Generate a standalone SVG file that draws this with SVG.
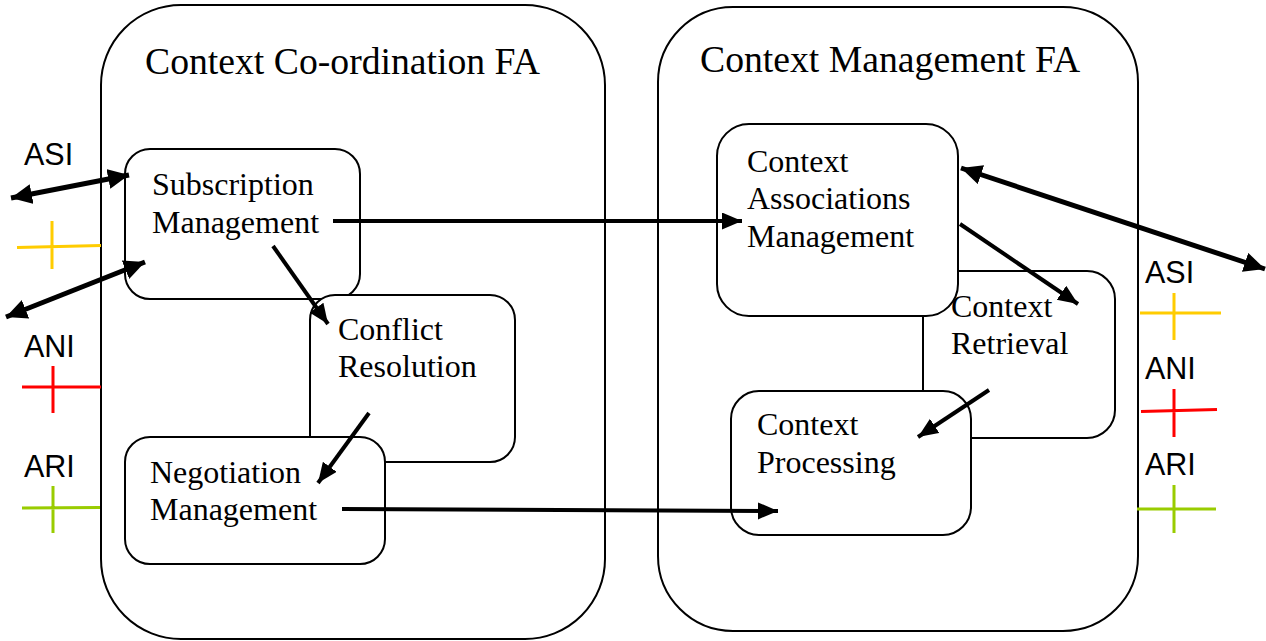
<svg xmlns="http://www.w3.org/2000/svg" width="1266" height="641" viewBox="0 0 1266 641">
  <style>
    .fa { fill: #fff; stroke: #000; stroke-width: 2; }
    .box { fill: #fff; stroke: #000; stroke-width: 2; }
    .title { font-family: "Liberation Serif", "Times New Roman", serif; font-size: 37.7px; fill: #000; }
    .lbl { font-family: "Liberation Serif", "Times New Roman", serif; font-size: 32px; fill: #000; }
    .ifl { font-family: "Liberation Sans", Arial, sans-serif; font-size: 30.5px; fill: #000; }
    .flow { stroke: #000; stroke-width: 4; fill: none; marker-end: url(#head); }
    .dual { stroke: #000; stroke-width: 5; fill: none; marker-start: url(#head2); marker-end: url(#head2); }
    .asi { stroke: #ffcc00; stroke-width: 3; fill: none; }
    .ani { stroke: #ff0000; stroke-width: 3; fill: none; }
    .ari { stroke: #99cc00; stroke-width: 3; fill: none; }
  </style>
  <defs>
    <marker id="head" markerUnits="userSpaceOnUse" markerWidth="22" markerHeight="20" refX="20" refY="8.5" orient="auto">
      <path d="M0,0 L20,8.5 L0,17 z" fill="#000"/>
    </marker>
    <marker id="head2" markerUnits="userSpaceOnUse" markerWidth="24" markerHeight="22" refX="21" refY="10" orient="auto-start-reverse">
      <path d="M0,0 L21,10 L0,20 z" fill="#000"/>
    </marker>
  </defs>

  <!-- functional areas -->
  <g id="fa-coordination">
    <rect class="fa" x="101" y="5" width="504" height="634" rx="80" ry="80"/>
    <text class="title" x="145" y="74">Context Co-ordination FA</text>
  </g>
  <g id="fa-management">
    <rect class="fa" x="658" y="7" width="480" height="624" rx="75" ry="75"/>
    <text class="title" x="700" y="72">Context Management FA</text>
  </g>

  <!-- co-ordination blocks -->
  <g id="subscription-management">
    <rect class="box" x="125" y="149" width="235" height="150" rx="25" ry="25"/>
    <text class="lbl" x="152" y="195">Subscription</text>
    <text class="lbl" x="152" y="233">Management</text>
  </g>
  <g id="conflict-resolution">
    <rect class="box" x="310" y="295" width="205" height="167" rx="25" ry="25"/>
    <text class="lbl" x="338" y="340">Conflict</text>
    <text class="lbl" x="338" y="377">Resolution</text>
  </g>
  <g id="negotiation-management">
    <rect class="box" x="125" y="437" width="260" height="127" rx="25" ry="25"/>
    <text class="lbl" x="150" y="483">Negotiation</text>
    <text class="lbl" x="150" y="520">Management</text>
  </g>

  <!-- management blocks -->
  <g id="context-retrieval">
    <rect class="box" x="923" y="271" width="192" height="167" rx="28" ry="28"/>
    <text class="lbl" x="951" y="317">Context</text>
    <text class="lbl" x="951" y="354">Retrieval</text>
  </g>
  <g id="context-associations-management">
    <rect class="box" x="717" y="124" width="241" height="192" rx="32" ry="32"/>
    <text class="lbl" x="747" y="172">Context</text>
    <text class="lbl" x="747" y="209">Associations</text>
    <text class="lbl" x="747" y="247">Management</text>
  </g>
  <g id="context-processing">
    <rect class="box" x="731" y="391" width="240" height="144" rx="28" ry="28"/>
    <text class="lbl" x="757" y="435">Context</text>
    <text class="lbl" x="757" y="473">Processing</text>
  </g>

  <!-- interface reference points -->
  <g id="if-left-asi">
    <text class="ifl" x="24" y="165">ASI</text>
    <path class="asi" d="M17,247.5 L101,245.5 M52,221 L52,269"/>
  </g>
  <g id="if-left-ani">
    <text class="ifl" x="24" y="357">ANI</text>
    <path class="ani" d="M22,387 L101,387 M53,366 L53,413"/>
  </g>
  <g id="if-left-ari">
    <text class="ifl" x="24" y="477">ARI</text>
    <path class="ari" d="M22,508 L100,507.5 M53,486 L53,533"/>
  </g>
  <g id="if-right-asi">
    <text class="ifl" x="1145" y="283">ASI</text>
    <path class="asi" d="M1140,313 L1221,313 M1174,293 L1174,340"/>
  </g>
  <g id="if-right-ani">
    <text class="ifl" x="1145" y="379">ANI</text>
    <path class="ani" d="M1141,411.5 L1217,409.5 M1174,389 L1174,437"/>
  </g>
  <g id="if-right-ari">
    <text class="ifl" x="1145" y="475">ARI</text>
    <path class="ari" d="M1137,509 L1216,509 M1174,485 L1174,533"/>
  </g>

  <!-- connectors -->
  <g id="connectors">
    <line class="dual" x1="11" y1="198" x2="129" y2="175"/>
    <line class="dual" x1="6" y1="317" x2="145" y2="262"/>
    <line class="dual" x1="961" y1="168" x2="1265" y2="269"/>
    <line class="flow" x1="333" y1="221" x2="742" y2="221"/>
    <line class="flow" x1="273" y1="246" x2="328" y2="324"/>
    <line class="flow" x1="369" y1="413" x2="318" y2="483"/>
    <line class="flow" x1="342" y1="509" x2="778" y2="511"/>
    <line class="flow" x1="960" y1="224" x2="1078" y2="304"/>
    <line class="flow" x1="989" y1="390" x2="918" y2="437"/>
  </g>
</svg>
